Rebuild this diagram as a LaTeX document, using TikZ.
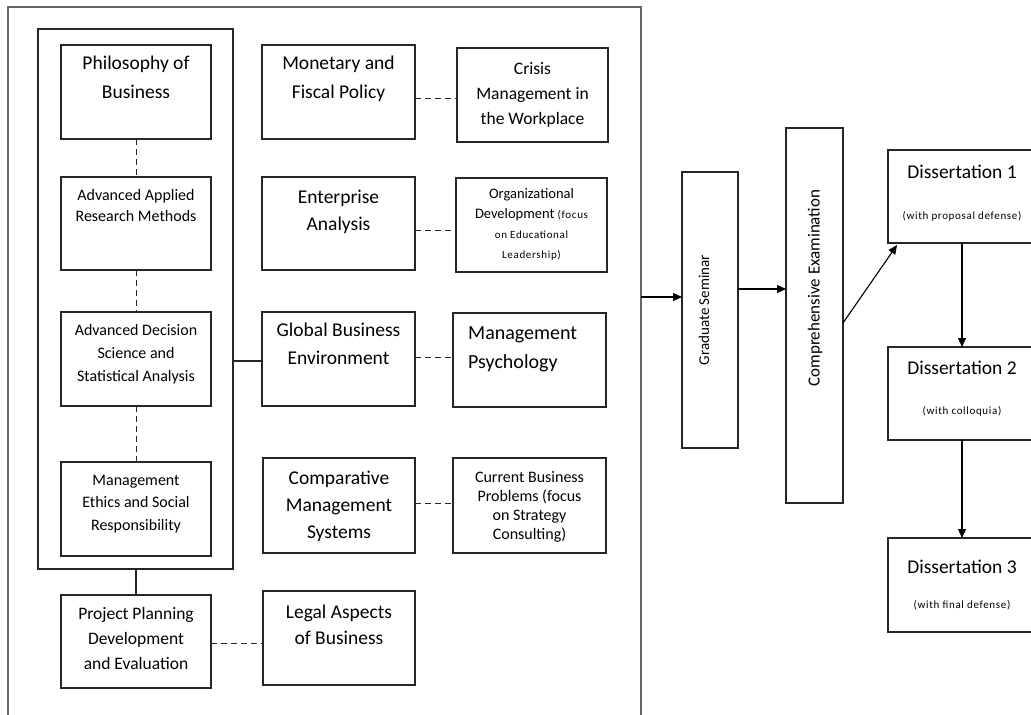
\documentclass[tikz,border=0pt]{standalone}
\usepackage{fontspec}
\setmainfont{Carlito}
\newfontfamily\trk[LetterSpace=6]{Carlito}
\usetikzlibrary{arrows.meta}
\tikzset{
  box/.style={draw=black!85, line width=1.1pt, inner sep=0pt, outer sep=0pt, rectangle},
  dline/.style={draw=black!85, line width=1pt, dash pattern=on 6pt off 4pt},
  sline/.style={draw=black!85, line width=1.1pt},
  arr/.style={draw=black, line width=1.1pt, -{Triangle[length=9pt,width=8pt]}},
  frameline/.style={draw=black!60, line width=1.6pt},
}
% box by corners: name, x1, y1, x2, y2
\newcommand{\boxat}[5]{\node[box, minimum width={#4-#2}, minimum height={#5-#3}] (#1) at ({(#2+#4)/2},{(#3+#5)/2}) {};}
% text: name, x, y of first line centre, font size, baselineskip, text
\newcommand{\tlab}[6]{\node[anchor=north, align=center, inner sep=0pt, font=\fontsize{#4}{#5}\selectfont] (#1) at (#2,{#3+0.33*#4-0.7*#5}) {\strut #6};}
\begin{document}
\begin{tikzpicture}[x=1pt,y=-1pt]
\useasboundingbox (0,0) rectangle (1031,715);
\fill[white] (0,0) rectangle (1031,715);

% outer open frame
\draw[frameline] (8,715) -- (8,7) -- (641,7) -- (641,715);
\coordinate (fr) at (641,297);

% inner group frame
\boxat{grp}{38}{29}{233}{569}

% left column
\boxat{phil}{61}{45}{211}{139}
\boxat{appl}{61}{177}{211}{270}
\boxat{deci}{61}{312}{211}{406}
\boxat{ethi}{61}{462}{211}{556}
\boxat{proj}{61}{595}{211}{688}

% middle column
\boxat{mone}{262}{45}{415}{139}
\boxat{ente}{262}{177}{415}{270}
\boxat{glob}{262}{312}{415}{406}
\boxat{comp}{263}{458}{415}{553}
\boxat{lega}{263}{591}{415}{685}

% right column
\boxat{cris}{457}{48}{608}{142}
\boxat{orga}{456}{178}{607}{272}
\boxat{psyc}{453}{313}{606}{407}
\boxat{curr}{453}{458}{606}{553}

% flow
\boxat{grad}{682}{172}{738}{448}
\boxat{exam}{786}{128}{843}{503}
\boxat{dis1}{888}{150}{1036}{243}
\boxat{dis2}{888}{347}{1036}{440}
\boxat{dis3}{888}{538}{1036}{632}

% texts
\tlab{tphil}{136}{63}{19.5}{29}{Philosophy of\\Business}
\tlab{tappl}{136}{195}{16}{21}{Advanced Applied\\Research Methods}
\tlab{tdeci}{136}{330}{16}{23}{Advanced Decision\\Science and\\Statistical Analysis}
\tlab{tethi}{136}{480}{16}{22.5}{Management\\Ethics and Social\\Responsibility}
\tlab{tproj}{136}{614}{17.5}{25}{Project Planning\\Development\\and Evaluation}

\tlab{tmone}{338.5}{63}{19.5}{29}{Monetary and\\Fiscal Policy}
\tlab{tente}{338.5}{197}{19.5}{27}{Enterprise\\Analysis}
\tlab{tglob}{338.5}{330}{19.5}{28}{Global Business\\Environment}
\tlab{tcomp}{339}{478}{19.5}{27}{Comparative\\Management\\Systems}
\tlab{tlega}{339}{612}{19.5}{26}{Legal Aspects\\of Business}

\tlab{tcris}{532.5}{69}{17.5}{25}{Crisis\\Management in\\the Workplace}
\tlab{torga}{531.5}{194}{14.5}{20}{Organizational\\Development {\trk\fontsize{11}{20}\selectfont(focus}\\{\trk\fontsize{11}{20}\selectfont on Educational}\\{\trk\fontsize{11}{20}\selectfont Leadership)}}
\node[anchor=north west, align=left, inner sep=0pt, font=\fontsize{20}{29}\selectfont] (tpsyc) at (468,{333+0.33*20-0.7*29}) {\strut Management\\Psychology};
\tlab{tcurr}{529.5}{477}{16}{19}{Current Business\\Problems (focus\\on Strategy\\Consulting)}

\node[rotate=90, inner sep=0pt, font=\fontsize{15}{18}\selectfont] (tgrad) at (704,310) {Graduate Seminar};
\node[rotate=90, inner sep=0pt, font=\fontsize{17}{20}\selectfont] (texam) at (815,288) {Comprehensive Examination};

\tlab{tdis1}{962}{172}{19.5}{41}{Dissertation 1\\{\trk\fontsize{11}{41}\selectfont(with proposal defense)}}
\tlab{tdis2}{962}{368}{19.5}{40}{Dissertation 2\\{\trk\fontsize{11}{40}\selectfont(with colloquia)}}
\tlab{tdis3}{962}{567}{19.5}{35}{Dissertation 3\\{\trk\fontsize{11}{35}\selectfont(with final defense)}}

% dashed vertical links
\draw[dline] (phil.south) -- (appl.north);
\draw[dline] (appl.south) -- (deci.north);
\draw[dline] (deci.south) -- (ethi.north);

% solid links
\draw[sline] (proj.north |- grp.south) -- (proj.north);
\draw[sline] ([yshift=-2pt]glob.west -| grp.east) -- ([yshift=-2pt]glob.west);

% dashed horizontal links
\draw[dline] ([yshift=-6pt]mone.east) -- ([yshift=-6pt]mone.east -| cris.west);
\draw[dline] ([yshift=-6.5pt]ente.east) -- ([yshift=-6.5pt]ente.east -| orga.west);
\draw[dline] ([yshift=2pt]glob.east) -- ([yshift=2pt]glob.east -| psyc.west);
\draw[dline] ([yshift=2.5pt]comp.east) -- ([yshift=2.5pt]comp.east -| curr.west);
\draw[dline] ([yshift=-1.5pt]proj.east) -- ([yshift=-1.5pt]proj.east -| lega.west);

% arrows
\draw[arr] (fr) -- (fr -| grad.west);
\draw[arr] ([yshift=21pt]grad.east) -- ([yshift=21pt]grad.east -| exam.west);
\draw[arr] ([yshift=-7.5pt]exam.east) -- ([xshift=9pt,yshift=-2pt]dis1.south west);
\draw[arr] (dis1.south -| tdis1) -- (dis2.north -| tdis1);
\draw[arr] (dis2.south -| tdis1) -- (dis3.north -| tdis1);
\end{tikzpicture}
\end{document}
